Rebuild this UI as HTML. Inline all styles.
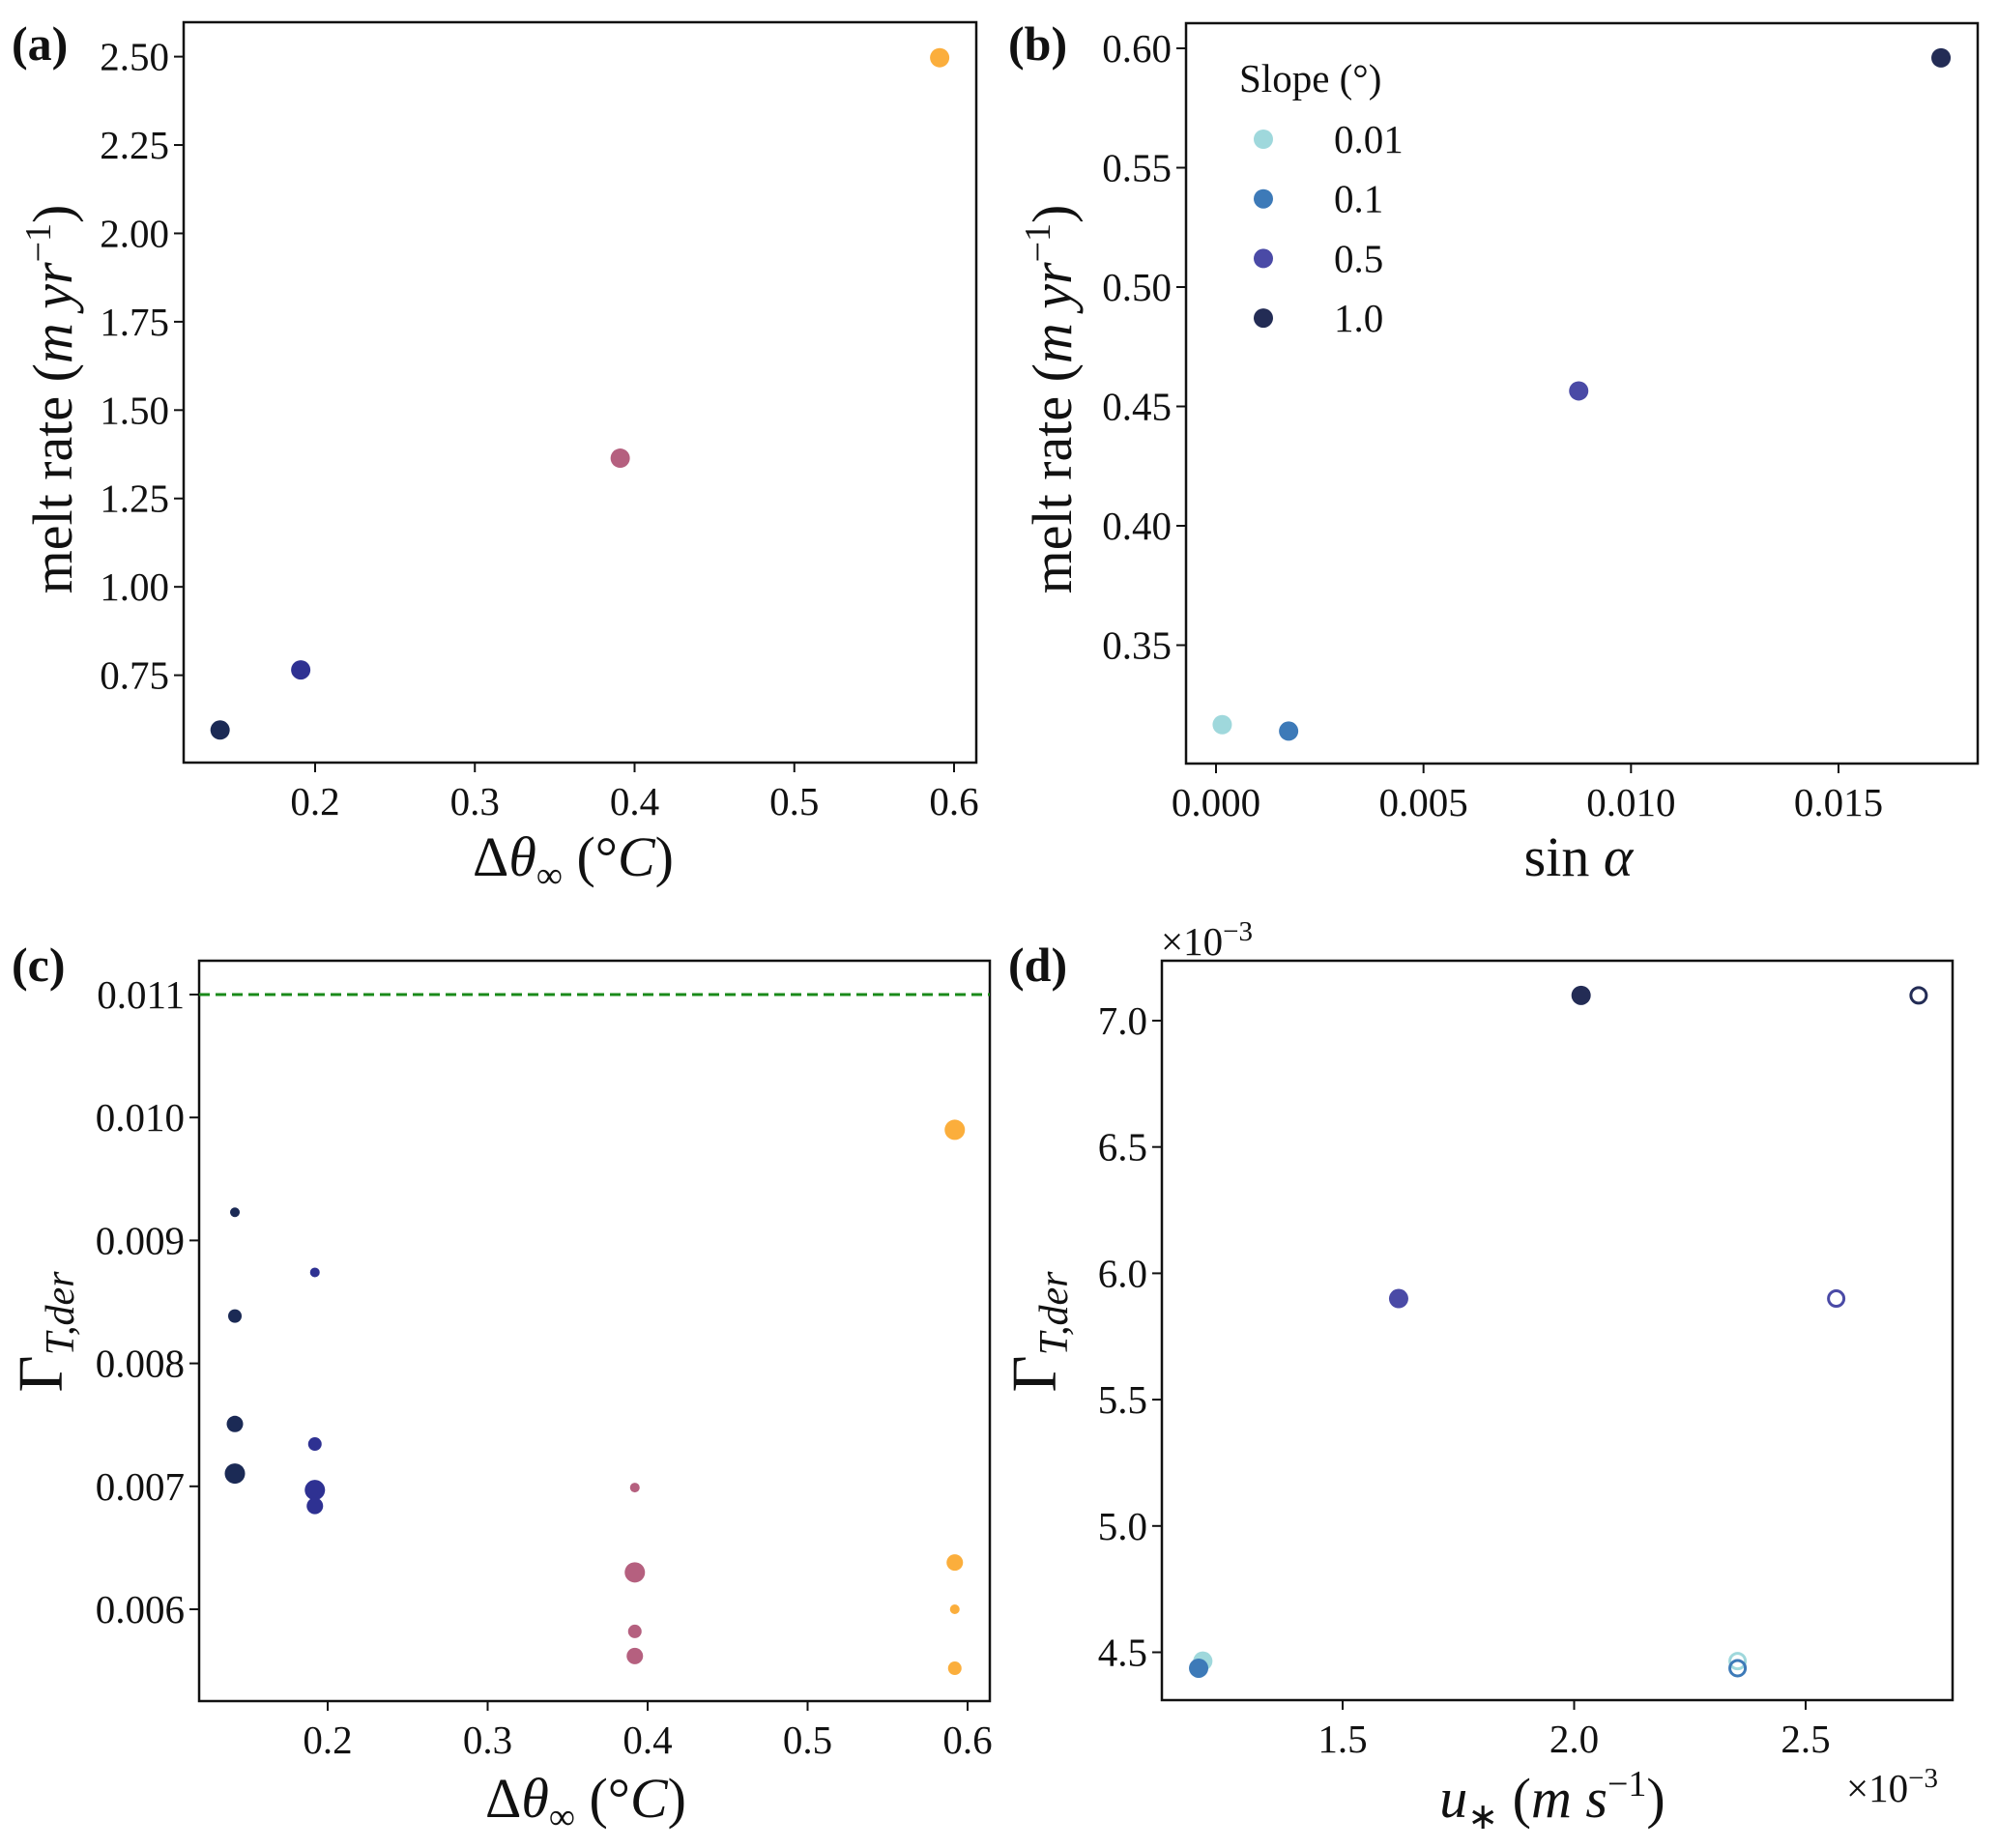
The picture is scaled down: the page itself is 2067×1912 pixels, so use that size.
<!DOCTYPE html>
<html><head><meta charset="utf-8"><style>
body{margin:0;background:#fff}
svg{display:block}
text{font-family:"Liberation Serif",serif;fill:#111}
.tick{font-size:41px}
.lab{font-size:58px}
.pl{font-size:50px;font-weight:bold}
</style></head><body>
<svg id="fig" width="2067" height="1912" viewBox="0 0 2067 1912"></svg>
<script>
// Panel (a)
const aX = [0.1405, 0.191, 0.391, 0.591];
const aY = [0.595, 0.765, 1.364, 2.497];
const aColors = ['#1b2a55', '#2e3192', '#b5607f', '#fbae3c'];
const aXTicks = [0.2, 0.3, 0.4, 0.5, 0.6];
const aYTicks = [0.75, 1.00, 1.25, 1.50, 1.75, 2.00, 2.25, 2.50];
// Panel (b)
const bX = [0.00015, 0.00175, 0.00874, 0.01747];
const bY = [0.3167, 0.3140, 0.4565, 0.596];
const bLegend = ['0.01', '0.1', '0.5', '1.0'];
const bColors = ['#9fd8dc', '#3d7ab8', '#4a4aa6', '#232c55'];
const bXTicks = [0.000, 0.005, 0.010, 0.015];
const bYTicks = [0.35, 0.40, 0.45, 0.50, 0.55, 0.60];
// Panel (c)
const cX = [0.142,0.142,0.142,0.142, 0.192,0.192,0.192,0.192, 0.392,0.392,0.392,0.392, 0.592,0.592,0.592,0.592];
const cY = [0.009229,0.008385,0.007507,0.007104, 0.00874,0.007344,0.00697,0.00684, 0.00699,0.00630,0.00582,0.00562, 0.00990,0.00638,0.00600,0.00552];
const cGroup = [0,0,0,0, 1,1,1,1, 2,2,2,2, 3,3,3,3];
const cSize = [1,2,3,4, 1,2,4,3, 1,4,2,3, 4,3,1,2];
const cRef = 0.011;
const cXTicks = [0.2, 0.3, 0.4, 0.5, 0.6];
const cYTicks = [0.006, 0.007, 0.008, 0.009, 0.010, 0.011];
// Panel (d)
const dX = [1.198, 1.189, 1.621, 2.015, 2.353, 2.353, 2.566, 2.744];
const dY = [4.465, 4.437, 5.90, 7.10, 4.465, 4.437, 5.90, 7.10];
const dGroup = [0, 1, 2, 3, 0, 1, 2, 3];
const dFilled = [1, 1, 1, 1, 0, 0, 0, 0];
const dXTicks = [1.5, 2.0, 2.5];
const dYTicks = [4.5, 5.0, 5.5, 6.0, 6.5, 7.0];

const svg = document.getElementById('fig');
const NS = 'http://www.w3.org/2000/svg';
function mk(tag, at, parent){const e=document.createElementNS(NS,tag);for(const k in at)e.setAttribute(k,at[k]);(parent||svg).appendChild(e);return e;}
function lin(d0,d1,r0,r1){return v=>r0+(v-d0)/(d1-d0)*(r1-r0);}
function fmt(v,n){return v.toFixed(n);}

function axes(name,L,T,R,B,xs,ys,xt,yt,xd,yd){
  const g=mk('g',{});
  
  
  const fr=mk('rect',{x:L,y:T,width:R-L,height:B-T,fill:'none',stroke:'#111','stroke-width':2.5},g);
  
  
  xt.forEach(v=>{const x=xs(v);
    mk('line',{x1:x,y1:B,x2:x,y2:B+10,stroke:'#111','stroke-width':2},g);
    const t=mk('text',{x:x,y:B+54,'text-anchor':'middle',class:'tick'},g);t.textContent=fmt(v,xd);
    
    });
  yt.forEach(v=>{const y=ys(v);
    mk('line',{x1:L,y1:y,x2:L-10,y2:y,stroke:'#111','stroke-width':2},g);
    const t=mk('text',{x:L-15,y:y+14,'text-anchor':'end',class:'tick'},g);t.textContent=fmt(v,yd);
    
    });
  return g;
}
function dot(x,y,r,fill,stroke,name){const c=mk('circle',{cx:x,cy:y,r:r,fill:fill,stroke:stroke||'none','stroke-width':3});
  
  return c;}
function txt(x,y,s,cls,name,extra){const t=mk('text',Object.assign({x:x,y:y,class:cls},extra||{}));t.innerHTML=s;
  
  return t;}

const meltLab='melt rate (<tspan font-style="italic">m yr</tspan><tspan font-size="38" dy="-22">−1</tspan><tspan dy="22">)</tspan>';
const thetaLab='Δ<tspan font-style="italic">θ</tspan><tspan font-size="38" dy="12">∞</tspan><tspan dy="-12"> (°</tspan><tspan font-style="italic">C</tspan>)';
const gammaLab='<tspan font-size="66">Γ</tspan><tspan font-size="42" font-style="italic" dy="12">T,der</tspan>';

// (a)
{const L=190,R=1010,T=23,B=789;
 const xs=lin(0.2,0.6,326,987), ys=lin(0.75,2.5,698.6,58.6);
 axes('panel-a',L,T,R,B,xs,ys,aXTicks,aYTicks,1,2);
 aX.forEach((v,i)=>dot(xs(v),ys(aY[i]),10,aColors[i],null,'panel-a-point'));
 txt(12,62,'(a)','pl','panel-a-label');
 txt(593,906,thetaLab,'lab','panel-a-x-axis-title',{'text-anchor':'middle'});
 txt(0,0,meltLab,'lab','panel-a-y-axis-title',{'text-anchor':'middle',transform:'translate(74,413) rotate(-90)'});
}
// (b)
{const L=1227,R=2046,T=24,B=790;
 const xs=lin(0,0.015,1258,1902), ys=lin(0.35,0.60,667.5,50);
 axes('panel-b',L,T,R,B,xs,ys,bXTicks,bYTicks,3,2);
 bX.forEach((v,i)=>dot(xs(v),ys(bY[i]),10,bColors[i],null,'panel-b-point'));
 txt(1043,62,'(b)','pl','panel-b-label');
 txt(1633,906,'sin <tspan font-style="italic">α</tspan>','lab','panel-b-x-axis-title',{'text-anchor':'middle'});
 txt(0,0,meltLab,'lab','panel-b-y-axis-title',{'text-anchor':'middle',transform:'translate(1108,413) rotate(-90)'});
 txt(1282,95,'Slope (°)','tick','legend-title',{'font-size':37});
 bLegend.forEach((s,i)=>{const y=144+i*61.7;
   dot(1307,y,10,bColors[i],null,'legend-marker');
   txt(1380,y+14,s,'tick','legend-entry');});
}
// (c)
{const L=206,R=1024,T=994,B=1760;
 const xs=lin(0.2,0.6,339,1001), ys=lin(0.006,0.011,1665,1029);
 axes('panel-c',L,T,R,B,xs,ys,cXTicks,cYTicks,1,3);
 const ref=mk('line',{x1:L,x2:R,y1:ys(cRef),y2:ys(cRef),stroke:'#1a8a1a','stroke-width':3,'stroke-dasharray':'11 6'});
 
 
 const rs=[0,5,7,8.5,10.5];
 cX.forEach((v,i)=>dot(xs(v),ys(cY[i]),rs[cSize[i]],aColors[cGroup[i]],null,'panel-c-point'));
 txt(12,1015,'(c)','pl','panel-c-label');
 txt(606,1880,thetaLab,'lab','panel-c-x-axis-title',{'text-anchor':'middle'});
 txt(0,0,gammaLab,'lab','panel-c-y-axis-title',{'text-anchor':'middle',transform:'translate(64,1378) rotate(-90)'});
}
// (d)
{const L=1202,R=2020,T=994,B=1759;
 const xs=lin(1.5,2.5,1389,1868), ys=lin(4.5,7.0,1709.5,1056);
 axes('panel-d',L,T,R,B,xs,ys,dXTicks,dYTicks,1,1);
 dX.forEach((v,i)=>{const col=bColors[dGroup[i]];
   if(dFilled[i]) dot(xs(v),ys(dY[i]),10,col,null,'panel-d-point');
   else dot(xs(v),ys(dY[i]),8,'none',col,'panel-d-point-hollow');});
 txt(1043,1015,'(d)','pl','panel-d-label');
 txt(1201,988,'×10<tspan font-size="29" dy="-15">−3</tspan>','tick','panel-d-y-scale',{'font-size':37});
 txt(1910,1864,'×10<tspan font-size="29" dy="-15">−3</tspan>','tick','panel-d-x-scale',{'font-size':37});
 txt(1606,1880,'<tspan font-style="italic">u</tspan><tspan font-size="38" dy="12">∗</tspan><tspan dy="-12"> (</tspan><tspan font-style="italic">m s</tspan><tspan font-size="38" dy="-22">−1</tspan><tspan dy="22">)</tspan>','lab','panel-d-x-axis-title',{'text-anchor':'middle'});
 txt(0,0,gammaLab,'lab','panel-d-y-axis-title',{'text-anchor':'middle',transform:'translate(1092,1378) rotate(-90)'});
}
</script>
</body></html>
